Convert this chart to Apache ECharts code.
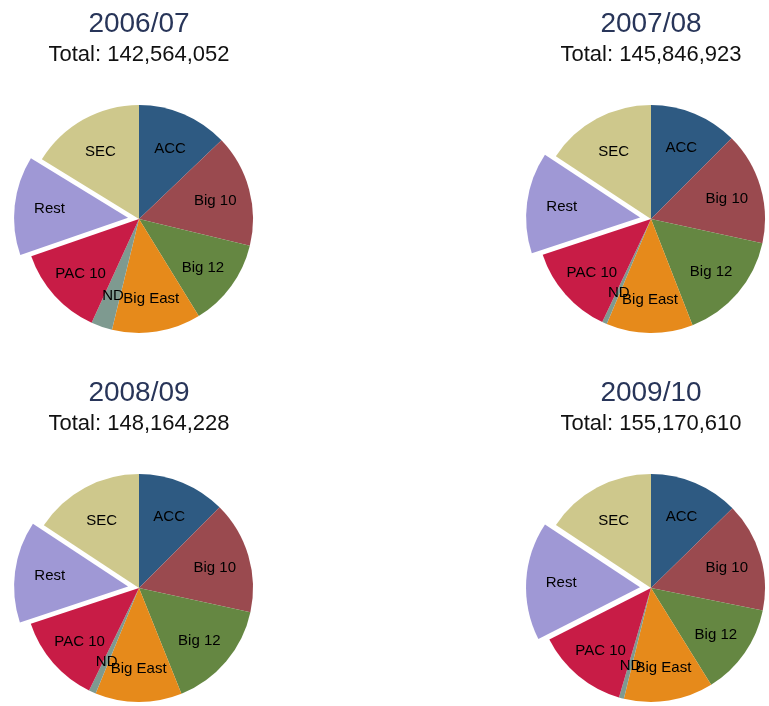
<!DOCTYPE html>
<html>
<head>
<meta charset="utf-8">
<script src="https://cdn.jsdelivr.net/npm/echarts@6/dist/echarts.min.js"></script>
<style>
  html, body { margin: 0; padding: 0; background: #fff; }
  #chart { width: 769px; height: 706px; }
</style>
</head>
<body>
<div id="chart"></div>
<script>
const conferences = ['ACC', 'Big 10', 'Big 12', 'Big East', 'ND', 'PAC 10', 'Rest', 'SEC'];
const seasons = ['2006/07', '2007/08', '2008/09', '2009/10'];
const totals = [142564052, 145846923, 148164228, 155170610];

// revenue per conference, millions
const values0607 = [18.4, 22.7, 17.8, 18.0, 4.3, 18.4, 20.1, 23.2];
const values0708 = [18.2, 23.2, 22.8, 17.9, 1.0, 18.8, 20.9, 22.9];
const values0809 = [18.5, 23.6, 23.0, 18.2, 1.5, 18.8, 21.3, 23.3];
const values0910 = [19.7, 24.1, 20.2, 19.7, 1.1, 20.2, 26.1, 24.4];
const seasonValues = [values0607, values0708, values0809, values0910];

const colors = ['#2E5A82', '#9A4A4F', '#658742', '#E68A1B', '#7E9A90', '#C81C46', '#9F98D5', '#CEC88C'];

const centers = [[139, 219], [651, 219], [139, 588], [651, 588]];
const titleTops = [10, 10, 379, 379];
const radius = 114;

const chart = echarts.init(document.getElementById('chart'));

const titles = seasons.map((s, i) => ({
  text: s,
  subtext: 'Total: ' + totals[i].toLocaleString('en-US'),
  left: centers[i][0],
  top: titleTops[i],
  textAlign: 'center',
  itemGap: 6,
  padding: 0,
  textStyle: { fontFamily: 'Liberation Sans', fontSize: 28, fontWeight: 'normal', color: '#283559' },
  subtextStyle: { fontFamily: 'Liberation Sans', fontSize: 22, color: '#111' }
}));

const makeData = (vals, withColor) => conferences.map((name, j) => ({
  name: name,
  value: vals[j],
  selected: name === 'Rest',
  itemStyle: { color: withColor ? colors[j] : 'rgba(0,0,0,0)' }
}));

const series = [];
seasonValues.forEach((vals, i) => {
  // slices
  series.push({
    type: 'pie',
    center: centers[i],
    radius: [0, radius],
    startAngle: 90,
    clockwise: true,
    selectedMode: 'single',
    selectedOffset: 11,
    itemStyle: { borderWidth: 0 },
    label: { show: false },
    labelLine: { show: false },
    emphasis: { disabled: true },
    data: makeData(vals, true)
  });
  // labels sit a bit further out than the default inside position
  series.push({
    type: 'pie',
    center: centers[i],
    radius: [38, radius],
    startAngle: 90,
    clockwise: true,
    silent: true,
    avoidLabelOverlap: false,
    minShowLabelAngle: 0,
    selectedMode: 'single',
    selectedOffset: 11,
    itemStyle: { borderWidth: 0 },
    label: {
      show: true,
      position: 'inside',
      formatter: '{b}',
      fontFamily: 'Liberation Sans',
      fontSize: 15,
      color: '#000',
      offset: [0, 2]
    },
    labelLayout: { hideOverlap: false },
    labelLine: { show: false },
    emphasis: { disabled: true },
    data: makeData(vals, false)
  });
});

chart.setOption({
  backgroundColor: '#fff',
  animation: false,
  title: titles,
  series: series
});
</script>
</body>
</html>
